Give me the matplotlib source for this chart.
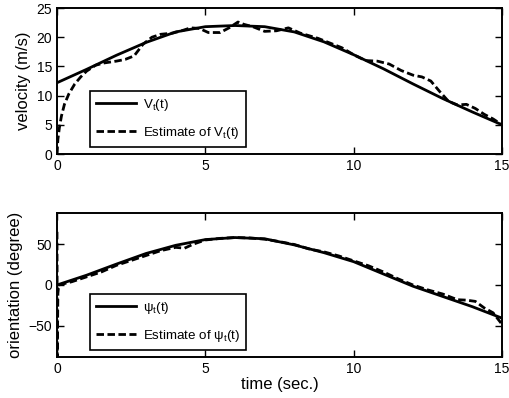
import numpy as np
import matplotlib
matplotlib.use('Agg')
import matplotlib.pyplot as plt

plt.rcParams['font.family'] = ['Liberation Sans', 'DejaVu Sans']
plt.rcParams['mathtext.fontset'] = 'custom'
plt.rcParams['mathtext.rm'] = 'Liberation Sans'
plt.rcParams['mathtext.it'] = 'Liberation Sans:italic'

# velocity, true
t_vel = [0, 1, 2, 3, 4, 5, 6, 7, 8, 9, 10, 11, 12, 13, 14, 15]
vel_true = [12.2, 14.5, 16.9, 19.1, 20.9, 21.8, 22.0, 21.8, 20.9, 19.2,
            17.0, 14.6, 12.0, 9.5, 7.2, 5.0]

# velocity, estimate
t_vel_est = [0, 0.03, 0.08, 0.15, 0.25, 0.4, 0.6, 0.8, 1.0, 1.3, 1.6, 2.0,
             2.3, 2.6, 2.9, 3.2, 3.5, 3.9, 4.2, 4.5, 4.8, 5.1, 5.5, 5.8,
             6.1, 6.3, 6.6, 7.0, 7.4, 7.8, 8.2, 8.8, 9.2, 9.6, 10.0, 10.4,
             10.8, 11.2, 11.6, 12.0, 12.3, 12.6, 12.9, 13.2, 13.5, 13.8,
             14.1, 14.4, 14.7, 15.0]
vel_est = [0, 2.5, 4.5, 6.5, 8.5, 10.3, 12.0, 13.2, 14.2, 15.2, 15.6, 15.9,
           16.2, 16.8, 18.8, 20.0, 20.5, 20.7, 21.1, 21.6, 21.5, 20.8, 20.8,
           21.6, 22.6, 22.2, 21.8, 21.0, 21.1, 21.6, 20.7, 19.8, 19.0, 18.2,
           17.0, 16.0, 15.9, 15.4, 14.3, 13.5, 13.2, 12.5, 10.7, 9.0, 8.4,
           8.5, 7.8, 6.8, 6.0, 5.0]

# orientation, true
t_ori = [0, 1, 2, 3, 4, 5, 6, 7, 8, 9, 10, 11, 12, 13, 14, 15]
ori_true = [0, 12, 25.5, 38.5, 48.5, 55.5, 58, 56.5, 49, 39.5, 28.5, 13.5,
            -1.5, -14, -26.5, -40.5]

# orientation, estimate
t_ori_est = [0, 0.01, 0.03, 0.06, 0.5, 1.0, 1.5, 2.0, 2.5, 3.0, 3.5, 4.0,
             4.3, 4.6, 5.0, 5.5, 6.0, 6.5, 7.0, 7.5, 8.0, 8.5, 9.0, 9.5,
             10.0, 10.5, 11.0, 11.5, 12.0, 12.5, 13.0, 13.5, 13.8, 14.1,
             14.4, 14.7, 15.0]
ori_est = [65, -88, -10, 0, 4, 10, 16, 24, 30, 36, 42, 46, 45, 50, 55, 57,
           58, 57.5, 56, 53, 49.5, 44, 40.5, 35.5, 29.5, 23.5, 16, 7.5, 0,
           -6, -11, -18, -18.5, -20, -28, -34, -48]

fig = plt.figure(figsize=(5.1, 3.98), dpi=100)
ax1 = fig.add_axes([57 / 510, 1 - 154 / 398, 445 / 510, 146 / 398])
ax2 = fig.add_axes([57 / 510, 1 - 357 / 398, 445 / 510, 144 / 398])

dash = (0, (2.7, 1.25))
ax1.plot(t_vel, vel_true, color='k', lw=2, label='V$_\\mathregular{t}$(t)')
ax1.plot(t_vel_est, vel_est, color='k', lw=2, linestyle=dash,
         label='Estimate of V$_\\mathregular{t}$(t)')
ax1.set_xlim(0, 15)
ax1.set_ylim(0, 25)
ax1.set_yticks([0, 5, 10, 15, 20, 25])
ax1.set_ylabel('velocity (m/s)', fontsize=12)

ax2.plot(t_ori, ori_true, color='k', lw=2, label='ψ$_\\mathregular{t}$(t)')
ax2.plot(t_ori_est, ori_est, color='k', lw=2, linestyle=dash,
         label='Estimate of ψ$_\\mathregular{t}$(t)')
ax2.set_xlim(0, 15)
ax2.set_ylim(-88, 88)
ax2.set_yticks([-50, 0, 50])
ax2.set_ylabel('orientation (degree)', fontsize=12)
ax2.set_xlabel('time (sec.)', fontsize=12, labelpad=1)

for ax in (ax1, ax2):
    ax.set_xticks([0, 5, 10, 15])
    ax.tick_params(direction='in', top=True, right=True, length=5,
                   width=1, labelsize=10)
    for s in ax.spines.values():
        s.set_linewidth(1.4)
    leg = ax.legend(loc='lower left', bbox_to_anchor=(0.075, 0.05),
                    fontsize=9.6, fancybox=False, framealpha=1,
                    edgecolor='k', handlelength=3.0, handletextpad=0.5,
                    borderpad=0.45, labelspacing=0.9, borderaxespad=0)
    leg.get_frame().set_linewidth(1.2)

fig.savefig('out.png')
